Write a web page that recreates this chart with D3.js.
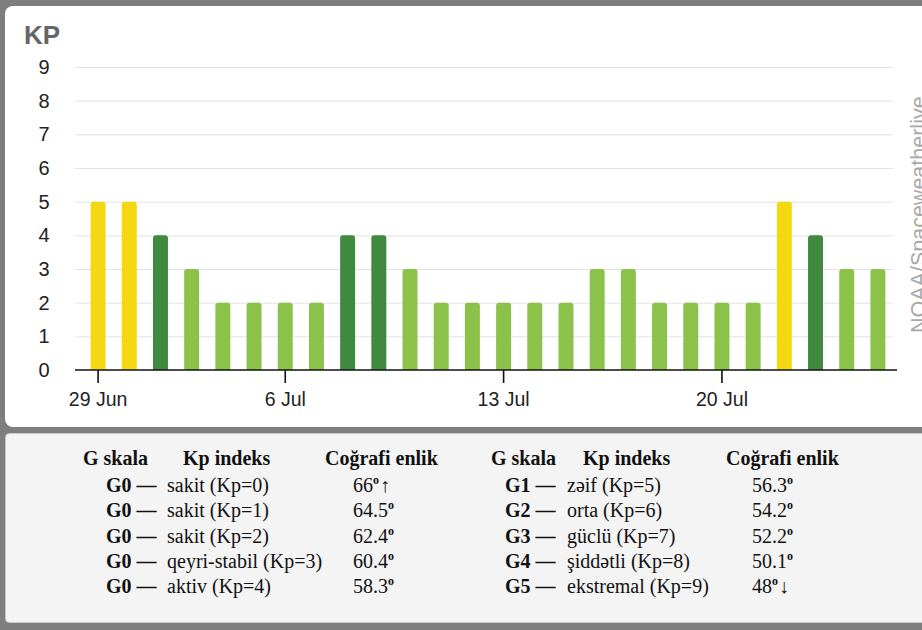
<!DOCTYPE html>
<html>
<head>
<meta charset="utf-8">
<script src="https://cdn.jsdelivr.net/npm/d3@7"></script>
<style>
  body { margin: 0; background: #7e7e7e; }
  svg { display: block; }
</style>
</head>
<body>
<svg id="chart" width="922" height="630"></svg>
<script>
// data

var kpValues = [5, 5, 4, 3, 2, 2, 2, 2, 4, 4, 3, 2, 2, 2, 2, 2, 3, 3, 2, 2, 2, 2, 5, 4, 3, 3];
var tickLabels = ["29 Jun", "6 Jul", "13 Jul", "20 Jul"];
var tickIndex = [0, 6, 13, 20];
var yTicks = [0, 1, 2, 3, 4, 5, 6, 7, 8, 9];

var gScale = ["G0", "G0", "G0", "G0", "G0", "G1", "G2", "G3", "G4", "G5"];
var kpDesc = ["sakit (Kp=0)", "sakit (Kp=1)", "sakit (Kp=2)", "qeyri-stabil (Kp=3)", "aktiv (Kp=4)",
              "zəif (Kp=5)", "orta (Kp=6)", "güclü (Kp=7)", "şiddətli (Kp=8)", "ekstremal (Kp=9)"];
var latitude = ["66", "64.5", "62.4", "60.4", "58.3", "56.3", "54.2", "52.2", "50.1", "48"];
var latArrow = ["↑", "", "", "", "", "", "", "", "", "↓"];
var headers = ["G skala", "Kp indeks", "Coğrafi enlik"];

var svg = d3.select("#chart");
var sans = "'Liberation Sans', Arial, Helvetica, sans-serif";
var serif = "'Liberation Serif', 'Times New Roman', serif";

// panels
svg.append("rect").attr("x", 5).attr("y", 6).attr("width", 930).attr("height", 421)
   .attr("rx", 8).attr("fill", "#ffffff");
svg.append("rect").attr("x", 5.5).attr("y", 433.5).attr("width", 930).attr("height", 189)
   .attr("rx", 4).attr("fill", "#f4f4f4").attr("stroke", "#c8c8c8");

// scales
var x = d3.scaleBand()
          .domain(d3.range(kpValues.length))
          .range([75, 901])
          .paddingInner(0.52)
          .paddingOuter(0.5);

var y = d3.scaleLinear().domain([0, 9]).range([370, 67]);

function barColor(v) {
    if (v >= 5) return "#f4d912";
    if (v == 4) return "#3f8a3f";
    return "#8bc24a";
}

// grid
const gGrid = svg.append("g").attr("transform", "translate(75,0)");
gGrid.call(d3.axisLeft(y).tickValues(yTicks.filter(d => d > 0)).tickSize(-818).tickFormat(""));
gGrid.select(".domain").remove();
gGrid.selectAll("line").attr("stroke", "#e2e2e2").attr("stroke-width", 1);

// y labels
const gYAxis = svg.append("g").attr("transform", "translate(44,0)");
gYAxis.call(d3.axisLeft(y).tickValues(yTicks).tickSize(0).tickPadding(0));
gYAxis.select(".domain").remove();
gYAxis.selectAll("text")
      .attr("x", 0)
      .attr("text-anchor", "middle")
      .attr("font-family", sans)
      .attr("font-size", 20)
      .attr("fill", "#222");

// bars with rounded top
function topRounded(x0, y0, w, h, r) {
    return "M" + x0 + "," + (y0 + h) +
           "V" + (y0 + r) +
           "Q" + x0 + "," + y0 + " " + (x0 + r) + "," + y0 +
           "H" + (x0 + w - r) +
           "Q" + (x0 + w) + "," + y0 + " " + (x0 + w) + "," + (y0 + r) +
           "V" + (y0 + h) + "Z";
}

svg.append("g").selectAll("path")
   .data(kpValues)
   .enter()
   .append("path")
   .attr("d", (d, i) => topRounded(x(i), y(d), x.bandwidth(), y(0) - y(d), 3))
   .attr("fill", d => barColor(d));

// x axis
const gXAxis = svg.append("g").attr("transform", "translate(0,370)");
gXAxis.call(d3.axisBottom(x)
              .tickValues(tickIndex)
              .tickFormat((d, i) => tickLabels[i])
              .tickSize(13)
              .tickSizeOuter(0)
              .tickPadding(9));
gXAxis.select(".domain").attr("stroke", "#111").attr("stroke-width", 1.6)
      .attr("d", "M75,0H897");
gXAxis.selectAll("line").attr("stroke", "#111").attr("stroke-width", 1.6);
gXAxis.selectAll("text")
      .attr("font-family", sans)
      .attr("font-size", 19.5)
      .attr("fill", "#222");

// title + source
svg.append("text").attr("x", 24).attr("y", 44)
   .attr("font-family", sans).attr("font-size", 26).attr("font-weight", "bold")
   .attr("fill", "#666").text("KP");

svg.append("text")
   .attr("transform", "translate(926,333) rotate(-90)")
   .attr("font-family", sans).attr("font-size", 21.5)
   .attr("fill", "#a8a8a8").text("NOAA/Spaceweatherlive");

// table
var blocks = [
    {start: 0, hx: [83, 183, 325], gx: 106, dx: 167, vx: 353},
    {start: 5, hx: [491, 583, 726], gx: 505, dx: 567, vx: 752}
];

var rowY = d3.scaleLinear().domain([0, 1]).range([492, 517.3]);

blocks.forEach(function(b) {
    var g = svg.append("g").attr("font-family", serif).attr("font-size", 20).attr("fill", "#111");

    g.selectAll("text.head")
     .data(headers)
     .enter()
     .append("text")
     .attr("class", "head")
     .attr("x", (d, i) => b.hx[i])
     .attr("y", 465)
     .attr("font-weight", "bold")
     .text(d => d);

    var rows = d3.range(b.start, b.start + 5);

    g.selectAll("text.g")
     .data(rows)
     .enter()
     .append("text")
     .attr("class", "g")
     .attr("x", b.gx)
     .attr("y", (d, i) => rowY(i))
     .attr("font-weight", "bold")
     .text(d => gScale[d] + " —");

    g.selectAll("text.desc")
     .data(rows)
     .enter()
     .append("text")
     .attr("class", "desc")
     .attr("x", b.dx)
     .attr("y", (d, i) => rowY(i))
     .text(d => kpDesc[d]);

    var val = g.selectAll("text.val")
     .data(rows)
     .enter()
     .append("text")
     .attr("class", "val")
     .attr("x", b.vx)
     .attr("y", (d, i) => rowY(i));

    val.append("tspan").text(d => latitude[d]);
    val.append("tspan").attr("dy", -8).attr("font-size", 12).attr("font-weight", "bold").text("o");
    val.append("tspan").attr("dy", 8).attr("dx", 1).text(d => latArrow[d]);
});
</script>
</body>
</html>
